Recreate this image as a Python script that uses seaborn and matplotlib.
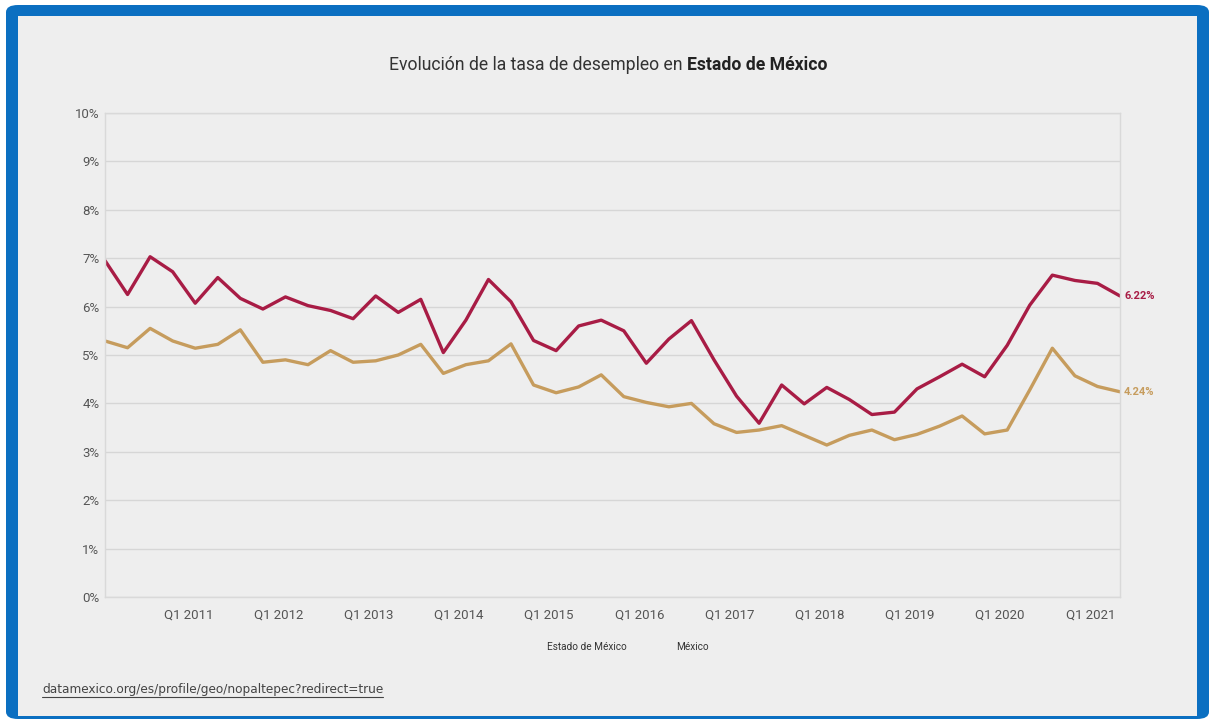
import pandas as pd
import matplotlib.pyplot as plt
import seaborn as sns
from matplotlib.patches import FancyBboxPatch, Rectangle
from matplotlib.lines import Line2D
from matplotlib.transforms import ScaledTranslation

# quarterly unemployment rate (%), Q1 2010 .. Q2 2021
quarters = [f"Q{q} {y}" for y in range(2010, 2022) for q in range(1, 5)][:46]
edomex = [6.95, 6.25, 7.03, 6.72, 6.07, 6.60, 6.17, 5.95, 6.20, 6.02,
          5.92, 5.75, 6.22, 5.88, 6.15, 5.05, 5.72, 6.56, 6.10, 5.30,
          5.09, 5.60, 5.72, 5.50, 4.83, 5.33, 5.71, 4.90, 4.15, 3.59,
          4.38, 3.99, 4.33, 4.08, 3.77, 3.82, 4.30, 4.55, 4.81, 4.55,
          5.20, 6.03, 6.65, 6.54, 6.48, 6.22]
mexico = [5.29, 5.15, 5.55, 5.29, 5.14, 5.22, 5.52, 4.85, 4.90, 4.80,
          5.09, 4.85, 4.88, 5.00, 5.22, 4.62, 4.80, 4.88, 5.23, 4.38,
          4.22, 4.34, 4.59, 4.14, 4.02, 3.93, 4.00, 3.58, 3.40, 3.45,
          3.54, 3.34, 3.14, 3.34, 3.45, 3.25, 3.36, 3.53, 3.74, 3.37,
          3.45, 4.28, 5.14, 4.57, 4.35, 4.24]
series_names = ["Estado de México", "México"]
colors = {"Estado de México": "#a81c45", "México": "#c69c5d"}

df = pd.DataFrame({
    "idx": list(range(len(quarters))) * 2,
    "quarter": quarters * 2,
    "value": edomex + mexico,
    "geo": [series_names[0]] * len(edomex) + [series_names[1]] * len(mexico),
})

sns.set_theme(style="white")
plt.rcParams["font.family"] = ["Roboto", "DejaVu Sans"]

fig = plt.figure(figsize=(12.09, 7.19), dpi=100)
fig.patch.set_facecolor("white")
W, H = 1209, 719

# blue frame + grey panel
fig.add_artist(FancyBboxPatch((6 / W, 0), 1203 / W, 714 / H, boxstyle="round,pad=0,rounding_size=0.01",
                              transform=fig.transFigure, fc="#0b6fc1", ec="none", zorder=0))
fig.add_artist(Rectangle((18 / W, 3 / H), (1197 - 18) / W, 700 / H,
                         transform=fig.transFigure, fc="#eeeeee", ec="none", zorder=0))

ax = fig.add_axes([105 / W, (719 - 597) / H, 1015 / W, 484 / H])
ax.set_facecolor("#eeeeee")

sns.lineplot(data=df, x="idx", y="value", hue="geo", palette=colors,
             linewidth=2.4, ax=ax, legend=True)
for ln in ax.lines:
    ln.set_solid_joinstyle("round")
    ln.set_solid_capstyle("round")

ax.set_xlim(0, len(quarters) - 1)
ax.set_ylim(0, 10)
ax.set_yticks(range(0, 11))
ax.set_yticklabels([f"{v}%" for v in range(0, 11)])
xt = list(range(4, len(quarters), 4))
ax.set_xticks(xt)
ax.set_xticklabels([quarters[i] for i in xt])
ax.tick_params(axis="both", length=0, labelsize=9.5, labelcolor="#555555")
ax.tick_params(axis="x", pad=8)
ax.tick_params(axis="y", pad=4)
shift = ScaledTranslation(-7 / 100, 0, fig.dpi_scale_trans)
for lab in ax.get_xticklabels():
    lab.set_transform(lab.get_transform() + shift)
ax.grid(axis="y", color="#d6d6d6", linewidth=1)
ax.set_xlabel("")
ax.set_ylabel("")
for s in ax.spines.values():
    s.set_color("#d9d9d9")
    s.set_linewidth(1)

# end labels
ax.annotate(f"{edomex[-1]:.2f}%", (len(quarters) - 1, edomex[-1]), xytext=(3, 0),
            textcoords="offset points", va="center", ha="left", fontsize=8,
            fontweight="bold", color=colors["Estado de México"], annotation_clip=False)
ax.annotate(f"{mexico[-1]:.2f}%", (len(quarters) - 1, mexico[-1]), xytext=(3, 0),
            textcoords="offset points", va="center", ha="left", fontsize=8,
            fontweight="bold", color=colors["México"], annotation_clip=False)

# legend: text only
leg = ax.legend(loc="center", bbox_to_anchor=(628 / W, (719 - 647) / H),
                bbox_transform=fig.transFigure, ncol=2, frameon=False,
                handlelength=0, handletextpad=0, columnspacing=5.0, fontsize=7.2)
for h in leg.legend_handles:
    h.set_visible(False)
for t in leg.get_texts():
    t.set_color("#333333")

# title with bold tail
fig.canvas.draw()
r = fig.canvas.get_renderer()
t1 = fig.text(0, (719 - 65) / H, "Evolución de la tasa de desempleo en ", fontsize=12.7,
              color="#333333", va="center", ha="left")
t2 = fig.text(0, (719 - 65) / H, "Estado de México", fontsize=12.7, fontweight="bold",
              color="#222222", va="center", ha="left")
w1 = t1.get_window_extent(r).width
w2 = t2.get_window_extent(r).width
x0 = 608 - (w1 + w2) / 2
t1.set_x(x0 / W)
t2.set_x((x0 + w1) / W)

# source link
src = fig.text(42 / W, (719 - 690) / H, "datamexico.org/es/profile/geo/nopaltepec?redirect=true",
               fontsize=8.7, color="#444444", va="center", ha="left", family="DejaVu Sans")
ws = src.get_window_extent(r).width
fig.add_artist(Line2D([42 / W, (42 + ws) / W], [(719 - 697) / H] * 2,
                      transform=fig.transFigure, color="#444444", linewidth=0.8))

plt.savefig("out.png", dpi=100, facecolor=fig.get_facecolor())
plt.close()
